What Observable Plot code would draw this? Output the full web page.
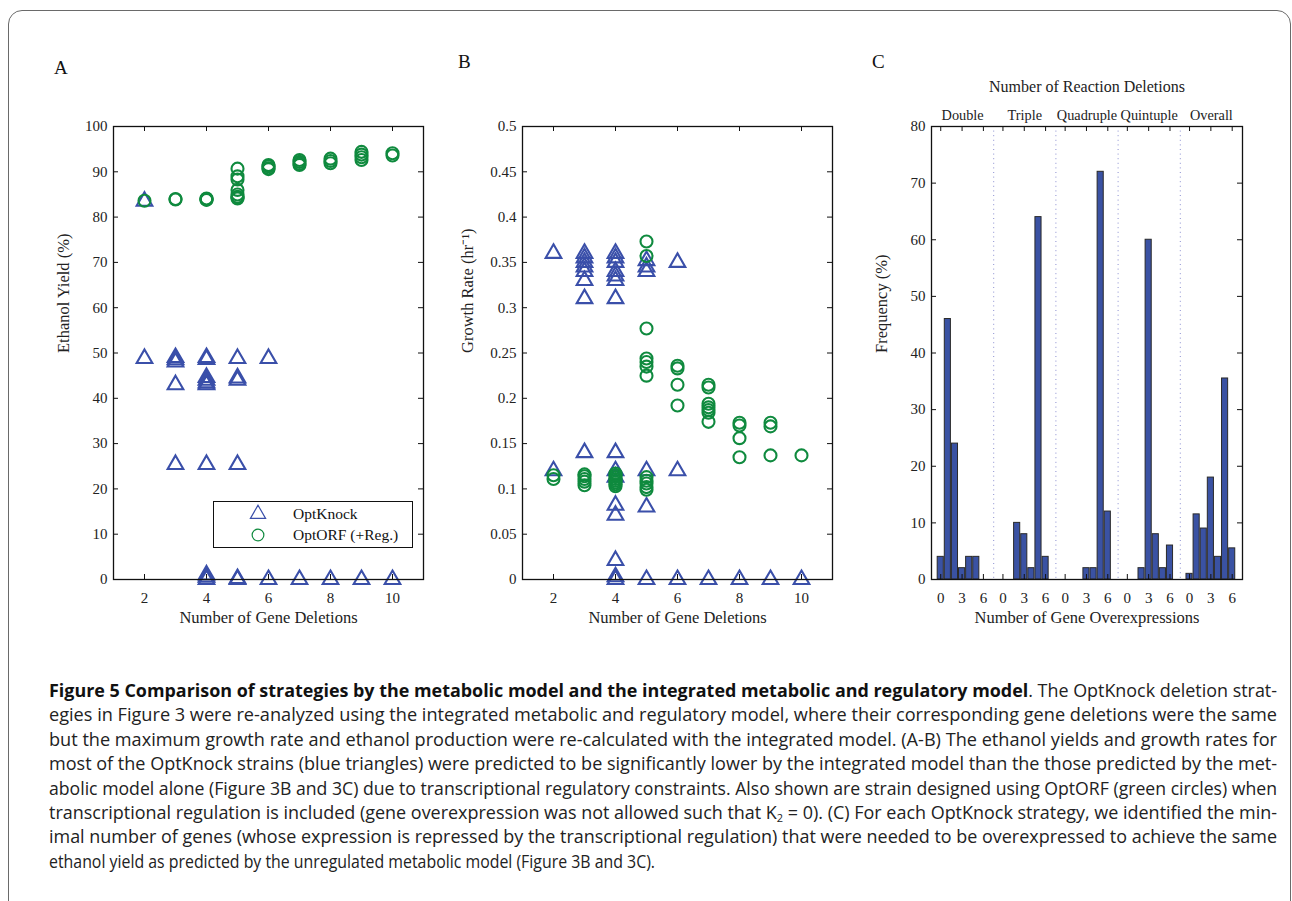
<!DOCTYPE html>
<html>
<head>
<meta charset="utf-8">
<script src="https://cdn.jsdelivr.net/npm/d3@7"></script>
<script src="https://cdn.jsdelivr.net/npm/@observablehq/plot@0.6"></script>
<style>
  html, body { margin: 0; padding: 0; background: #fff; }
  body { width: 1292px; height: 901px; overflow: hidden; position: relative; font-family: "Liberation Serif", serif; }
  #border { position: absolute; left: 8px; top: 10px; width: 1283px; height: 1000px; border: 1px solid #6a6a6a; border-radius: 14px; box-sizing: border-box; }
  .panel { position: absolute; }
  .letter { position: absolute; font-family: "Liberation Serif", serif; font-size: 19px; color: #111; line-height: 1; }
  #legend { position: absolute; left: 213px; top: 501px; width: 200px; height: 47px; box-sizing: border-box; border: 1px solid #111; background: #fff; font-family: "Liberation Serif", serif; font-size: 15.5px; color: #111; }
  #legend .item { position: absolute; left: 0; height: 20px; display: flex; align-items: center; }
  #legend svg { position: absolute; left: 34px; }
  #legend span { position: absolute; left: 79px; white-space: nowrap; }
  #caption { position: absolute; left: 49px; top: 678px; width: 1228px; font-family: "Open Sans", sans-serif; font-size: 18px; color: #222; }
  .capline { height: 24.4px; line-height: 24.4px; white-space: nowrap; }
  .capline span { white-space: nowrap; }
  .capline b { font-weight: 700; color: #111; }
  sub { font-size: 11px; vertical-align: -3px; line-height: 0; }
</style>
</head>
<body>
<div id="border"></div>
<div class="letter" style="left:54px; top:58px;">A</div>
<div class="letter" style="left:458px; top:52px;">B</div>
<div class="letter" style="left:872px; top:52px;">C</div>
<div id="panelA" class="panel"></div>
<div id="panelB" class="panel"></div>
<div id="panelC" class="panel"></div>
<div id="legend"></div>
<div id="caption"></div>
<script>
// ---------------- data ----------------
const BLUE = "#3a4fa9";
const GREEN = "#0f8a3e";
const BAR_FILL = "#3a52a3";

const xTicksAB = [2, 4, 6, 8, 10];
const yTicksA = [0, 10, 20, 30, 40, 50, 60, 70, 80, 90, 100];
const yTicksB = [0, 0.05, 0.1, 0.15, 0.2, 0.25, 0.3, 0.35, 0.4, 0.45, 0.5];
const yTicksC = [0, 10, 20, 30, 40, 50, 60, 70, 80];

// Panel A – ethanol yield (%)
const knockYieldX = [2, 2,
  3, 3, 3, 3, 3,
  4, 4, 4, 4, 4, 4, 4, 4, 4, 4,
  5, 5, 5, 5, 5, 5,
  6, 6,
  7, 8, 9, 10];
const knockYieldY = [83.5, 48.8,
  49.0, 48.5, 48.0, 43.0, 25.4,
  49.0, 48.6, 44.6, 44.0, 43.4, 43.0, 25.4, 1.0, 0.5, 0,
  48.8, 44.5, 44.0, 25.4, 0.2, 0,
  48.8, 0,
  0, 0, 0, 0];
const orfYieldX = [2,
  3, 3,
  4, 4, 4, 4,
  5, 5, 5, 5, 5, 5, 5, 5,
  6, 6, 6, 6,
  7, 7, 7, 7,
  8, 8, 8,
  9, 9, 9, 9,
  10, 10];
const orfYieldY = [83.6,
  84.0, 83.9,
  84.1, 84.0, 83.9, 83.8,
  90.7, 89.0, 88.3, 86.0, 85.0, 84.5, 84.3, 84.1,
  91.5, 91.2, 90.8, 90.6,
  92.6, 92.2, 91.8, 91.5,
  92.9, 92.4, 91.9,
  94.4, 93.8, 93.2, 92.6,
  94.1, 93.6];

// Panel B – growth rate (1/hr)
const knockGrowthX = [2, 2,
  3, 3, 3, 3, 3, 3, 3, 3,
  4, 4, 4, 4, 4, 4, 4, 4, 4, 4, 4, 4, 4, 4, 4,
  5, 5, 5, 5, 5, 5,
  6, 6, 6,
  7, 8, 9, 10];
const knockGrowthY = [0.36, 0.12,
  0.36, 0.355, 0.35, 0.345, 0.34, 0.33, 0.31, 0.14,
  0.36, 0.355, 0.35, 0.34, 0.335, 0.33, 0.31, 0.14, 0.12, 0.113, 0.082, 0.071, 0.021, 0.003, 0,
  0.352, 0.345, 0.34, 0.12, 0.08, 0,
  0.35, 0.12, 0,
  0, 0, 0, 0];
const orfGrowthX = [2, 2,
  3, 3, 3, 3, 3,
  4, 4, 4, 4, 4, 4, 4, 4,
  5, 5, 5, 5, 5, 5, 5, 5, 5, 5, 5, 5,
  6, 6, 6, 6,
  7, 7, 7, 7, 7, 7, 7,
  8, 8, 8, 8,
  9, 9, 9,
  10];
const orfGrowthY = [0.115, 0.111,
  0.116, 0.114, 0.111, 0.108, 0.104,
  0.117, 0.115, 0.113, 0.111, 0.109, 0.107, 0.105, 0.103,
  0.373, 0.357, 0.277, 0.244, 0.24, 0.235, 0.225, 0.113, 0.109, 0.106, 0.102, 0.099,
  0.236, 0.233, 0.215, 0.192,
  0.215, 0.212, 0.194, 0.19, 0.187, 0.184, 0.174,
  0.173, 0.17, 0.156, 0.135,
  0.173, 0.169, 0.137,
  0.137];

// Panel C – frequency (%) of number of gene overexpressions (0..6)
const reactionGroups = ["Double", "Triple", "Quadruple", "Quintuple", "Overall"];
const overexpressions = [0, 1, 2, 3, 4, 5, 6];
const overexpressionTickLabels = [0, 3, 6];
const freqDouble    = [4, 46, 24, 2, 4, 4, 0];
const freqTriple    = [0, 0, 10, 8, 2, 64, 4];
const freqQuadruple = [0, 0, 0, 2, 2, 72, 12];
const freqQuintuple = [0, 0, 2, 60, 8, 2, 6];
const freqOverall   = [1, 11.5, 9, 18, 4, 35.5, 5.5];

// ---------------- layout ----------------
const FW = 310, FH = 453;
const ML = 70, MR = 15, MB = 70;
const style = { fontFamily: "Liberation Serif, serif", fontSize: "15px", color: "#222", background: "transparent", overflow: "visible" };
const zip = (xs, ys) => xs.map((x, i) => ({ x, y: ys[i] }));

function frameTicks(xTicks, yTicks, xAcc, fw) {
  return [
    Plot.tickX(xTicks, { x: xAcc, insetTop: FH - 5, stroke: "#111", strokeWidth: 1 }),
    Plot.tickX(xTicks, { x: xAcc, insetBottom: FH - 5, stroke: "#111", strokeWidth: 1 }),
    Plot.tickY(yTicks, { y: d => d, insetRight: fw - 5, stroke: "#111", strokeWidth: 1 }),
    Plot.tickY(yTicks, { y: d => d, insetLeft: fw - 5, stroke: "#111", strokeWidth: 1 })
  ];
}

function scatterPanel(el, left, knock, orf, yDomain, yTicks, yLabel, yLabelDx) {
  const MT = 30;
  const chart = Plot.plot({
    width: ML + FW + MR, height: MT + FH + MB,
    marginLeft: ML, marginRight: MR, marginTop: MT, marginBottom: MB,
    x: { domain: [1, 11] },
    y: { domain: yDomain },
    style,
    marks: [
      Plot.axisX(xTicksAB, { anchor: "bottom", label: null, tickSize: 0, tickPadding: 13, fontSize: 15 }),
      Plot.axisY(yTicks, { anchor: "left", label: null, tickSize: 0, tickPadding: 6, fontSize: 15, tickFormat: d => String(d) }),
      ...frameTicks(xTicksAB, yTicks, d => d, FW),
      Plot.dot(knock, { x: "x", y: "y", symbol: "triangle", r: 5.8, stroke: BLUE, strokeWidth: 2.1, fill: "none" }),
      Plot.dot(orf, { x: "x", y: "y", symbol: "circle", r: 6, stroke: GREEN, strokeWidth: 2.1, fill: "none" }),
      Plot.frame({ stroke: "#111", strokeWidth: 1.3 }),
      Plot.text(["Number of Gene Deletions"], { frameAnchor: "bottom", dy: 43, fontSize: 16.5, fill: "#222" }),
      Plot.text([yLabel], { frameAnchor: "left", dx: yLabelDx, rotate: -90, fontSize: 16.5, fill: "#222" })
    ]
  });
  el.style.left = left + "px";
  el.style.top = (126 - MT) + "px";
  el.appendChild(chart);
}

scatterPanel(document.getElementById("panelA"), 113 - ML,
  zip(knockYieldX, knockYieldY), zip(orfYieldX, orfYieldY),
  [0, 100], yTicksA, "Ethanol Yield (%)", -50);
scatterPanel(document.getElementById("panelB"), 522 - ML,
  zip(knockGrowthX, knockGrowthY), zip(orfGrowthX, orfGrowthY),
  [0, 0.5], yTicksB, "Growth Rate (hr\u207B\u00B9)", -55);

// Panel C
(function () {
  const MT = 70;
  const FWC = 311;
  const S = 8.75;            // width of one reaction-deletion section, in bar units
  const off = 1.3;           // offset of the first bar inside a section
  const series = [freqDouble, freqTriple, freqQuadruple, freqQuintuple, freqOverall];
  const bars = [];
  series.forEach((vals, g) => vals.forEach((v, k) => {
    if (v > 0) bars.push({ pos: g * S + off + overexpressions[k], v });
  }));
  const tickPos = [];
  const tickLab = new Map();
  reactionGroups.forEach((_, g) => overexpressionTickLabels.forEach(k => {
    const p = g * S + off + k; tickPos.push(p); tickLab.set(p, String(k));
  }));
  const seps = reactionGroups.slice(1).map((_, i) => (i + 1) * S);
  const chart = Plot.plot({
    width: ML + FWC + MR, height: MT + FH + MB,
    marginLeft: ML, marginRight: MR, marginTop: MT, marginBottom: MB,
    x: { domain: [0, reactionGroups.length * S] },
    y: { domain: [0, 80] },
    style,
    marks: [
      Plot.ruleX(seps, { x: d => d, stroke: "#8a8ed0", strokeWidth: 1, strokeDasharray: "1,3.6" }),
      Plot.rectY(bars, { x1: d => d.pos - 0.43, x2: d => d.pos + 0.43, y: "v", fill: BAR_FILL, stroke: "#2a2a2a", strokeWidth: 1 }),
      Plot.axisX(tickPos, { anchor: "bottom", label: null, tickSize: 0, tickPadding: 13, fontSize: 15, tickFormat: d => tickLab.get(d) }),
      Plot.axisY(yTicksC, { anchor: "left", label: null, tickSize: 0, tickPadding: 6, fontSize: 15 }),
      ...frameTicks(tickPos, yTicksC, d => d, FWC),
      Plot.frame({ stroke: "#111", strokeWidth: 1.3 }),
      Plot.text(reactionGroups, { x: (d, i) => i * S + S / 2, frameAnchor: "top", dy: -17, fontSize: 14.3, fill: "#222" }),
      Plot.text(["Number of Reaction Deletions"], { x: () => reactionGroups.length * S / 2, frameAnchor: "top", dy: -46, fontSize: 16, fill: "#222" }),
      Plot.text(["Number of Gene Overexpressions"], { frameAnchor: "bottom", dy: 43, fontSize: 16.5, fill: "#222" }),
      Plot.text(["Frequency (%)"], { frameAnchor: "left", dx: -50, rotate: -90, fontSize: 16.5, fill: "#222" })
    ]
  });
  const el = document.getElementById("panelC");
  el.style.left = (931 - ML) + "px";
  el.style.top = (126 - MT) + "px";
  el.appendChild(chart);
})();

// Legend for panel A
(function () {
  const lg = document.getElementById("legend");
  const items = [
    { name: "OptKnock", color: BLUE, shape: "triangle", top: 2 },
    { name: "OptORF (+Reg.)", color: GREEN, shape: "circle", top: 23 }
  ];
  items.forEach(it => {
    const d = document.createElement("div");
    d.className = "item";
    d.style.top = it.top + "px";
    const sym = d3.symbol(it.shape === "triangle" ? d3.symbolTriangle : d3.symbolCircle, it.shape === "triangle" ? 100 : 108)();
    d.innerHTML = `<svg width="20" height="20" viewBox="-10 -10 20 20"><path d="${sym}" fill="none" stroke="${it.color}" stroke-width="1.2"/></svg><span>${it.name}</span>`;
    lg.appendChild(d);
  });
})();

// Caption
const captionLines = [
  "<b>Figure 5 Comparison of strategies by the metabolic model and the integrated metabolic and regulatory model</b>. The OptKnock deletion strat-",
  "egies in Figure 3 were re-analyzed using the integrated metabolic and regulatory model, where their corresponding gene deletions were the same",
  "but the maximum growth rate and ethanol production were re-calculated with the integrated model. (A-B) The ethanol yields and growth rates for",
  "most of the OptKnock strains (blue triangles) were predicted to be significantly lower by the integrated model than the those predicted by the met-",
  "abolic model alone (Figure 3B and 3C) due to transcriptional regulatory constraints. Also shown are strain designed using OptORF (green circles) when",
  "transcriptional regulation is included (gene overexpression was not allowed such that K<sub>2</sub> = 0). (C) For each OptKnock strategy, we identified the min-",
  "imal number of genes (whose expression is repressed by the transcriptional regulation) that were needed to be overexpressed to achieve the same",
  "ethanol yield as predicted by the unregulated metabolic model (Figure 3B and 3C)."
];
(function () {
  const cap = document.getElementById("caption");
  const target = 1228;
  const spans = [];
  captionLines.forEach((html) => {
    const div = document.createElement("div");
    div.className = "capline";
    const span = document.createElement("span");
    span.style.display = "inline-block";
    span.innerHTML = html;
    div.appendChild(span);
    cap.appendChild(div);
    spans.push(span);
  });
  const widths = spans.map(s => s.getBoundingClientRect().width);
  spans.forEach((span, i) => {
    const last = i === spans.length - 1;
    const s = last ? 606 / widths[i] : target / widths[i];
    span.style.transformOrigin = "0 50%";
    span.style.transform = `scaleX(${s})`;
  });
})();
</script>
</body>
</html>
